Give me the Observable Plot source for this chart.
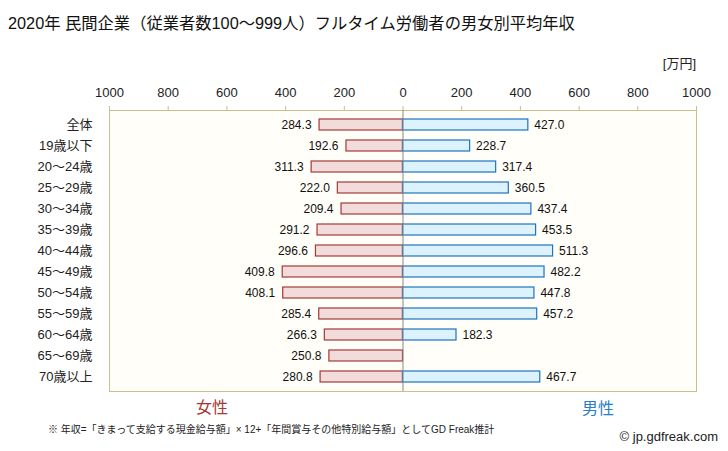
<!DOCTYPE html>
<html>
<head>
<meta charset="utf-8">
<script src="https://cdn.jsdelivr.net/npm/d3@7"></script>
<script src="https://cdn.jsdelivr.net/npm/@observablehq/plot@0.6"></script>
<style>
  body { margin: 0; background: #fff; font-family: "Liberation Sans", "Noto Sans CJK JP", sans-serif; }
  #wrap { position: relative; width: 728px; height: 451px; overflow: hidden; }
  .abs { position: absolute; white-space: nowrap; line-height: 1; }
</style>
</head>
<body>
<div id="wrap"></div>
<script>
const categories = ["全体","19歳以下","20～24歳","25～29歳","30～34歳","35～39歳","40～44歳","45～49歳","50～54歳","55～59歳","60～64歳","65～69歳","70歳以上"];
const female = [284.3,192.6,311.3,222.0,209.4,291.2,296.6,409.8,408.1,285.4,266.3,250.8,280.8];
const male = [427.0,228.7,317.4,360.5,437.4,453.5,511.3,482.2,447.8,457.2,182.3,null,467.7];
const xTicks = [-1000,-800,-600,-400,-200,0,200,400,600,800,1000];

const fData = categories.map((c, i) => ({cat: c, v: female[i]})).filter(d => d.v != null);
const mData = categories.map((c, i) => ({cat: c, v: male[i]})).filter(d => d.v != null);

const font = '"Liberation Sans", "Noto Sans CJK JP", sans-serif';

const chart = Plot.plot({
  width: 728,
  height: 451,
  marginTop: 110,
  marginBottom: 60,
  marginLeft: 109,
  marginRight: 32,
  style: {fontFamily: font, fontSize: "13px", color: "#222", background: "transparent"},
  x: {domain: [-1000, 1000]},
  y: {domain: categories, paddingInner: 0.49, paddingOuter: 0.245},
  marks: [
    Plot.frame({fill: "#fffef8", stroke: "#cbbd8c"}),
    Plot.axisX({anchor: "top", ticks: xTicks, tickFormat: d => String(Math.abs(d)), tickSize: 5, tickPadding: 9, stroke: "#cbbd8c", fontSize: 13, fill: "#222", label: null}),
    Plot.axisY({tickSize: 0, tickPadding: 17, fontSize: 13, fill: "#222", label: null}),
    Plot.barX(fData, {x1: 0, x2: d => -d.v, y: "cat", fill: "#f2dcdb", stroke: "#a33a36", strokeWidth: 1.2}),
    Plot.barX(mData, {x1: 0, x2: "v", y: "cat", fill: "#dcf3fd", stroke: "#1f72c2", strokeWidth: 1.2}),
    Plot.ruleX([0], {stroke: "#888", strokeWidth: 1}),
    Plot.text(fData, {x: d => -d.v, y: "cat", text: d => d.v.toFixed(1), textAnchor: "end", dx: -8, fontSize: 12, fill: "#111"}),
    Plot.text(mData, {x: "v", y: "cat", text: d => d.v.toFixed(1), textAnchor: "start", dx: 6, fontSize: 12, fill: "#111"})
  ]
});
const wrap = document.getElementById("wrap");
chart.style.position = "absolute";
chart.style.left = "0";
chart.style.top = "0";
wrap.appendChild(chart);

function addText(txt, css) {
  const d = document.createElement("div");
  d.className = "abs";
  d.textContent = txt;
  Object.assign(d.style, css);
  wrap.appendChild(d);
}
addText("2020年 民間企業（従業者数100～999人）フルタイム労働者の男女別平均年収", {left: "8px", top: "15px", fontSize: "16.3px", color: "#111"});
addText("[万円]", {right: "32px", top: "57px", fontSize: "13px", color: "#222"});
addText("女性", {left: "196px", top: "400px", fontSize: "16px", color: "#a33a36"});
addText("男性", {left: "582px", top: "401px", fontSize: "16px", color: "#2a7ec8"});
addText("※ 年収=「きまって支給する現金給与額」× 12+「年間賞与その他特別給与額」としてGD Freak推計", {left: "48px", top: "425px", fontSize: "10px", color: "#222"});
addText("© jp.gdfreak.com", {right: "10px", top: "430px", fontSize: "13px", color: "#222"});
</script>
</body>
</html>
